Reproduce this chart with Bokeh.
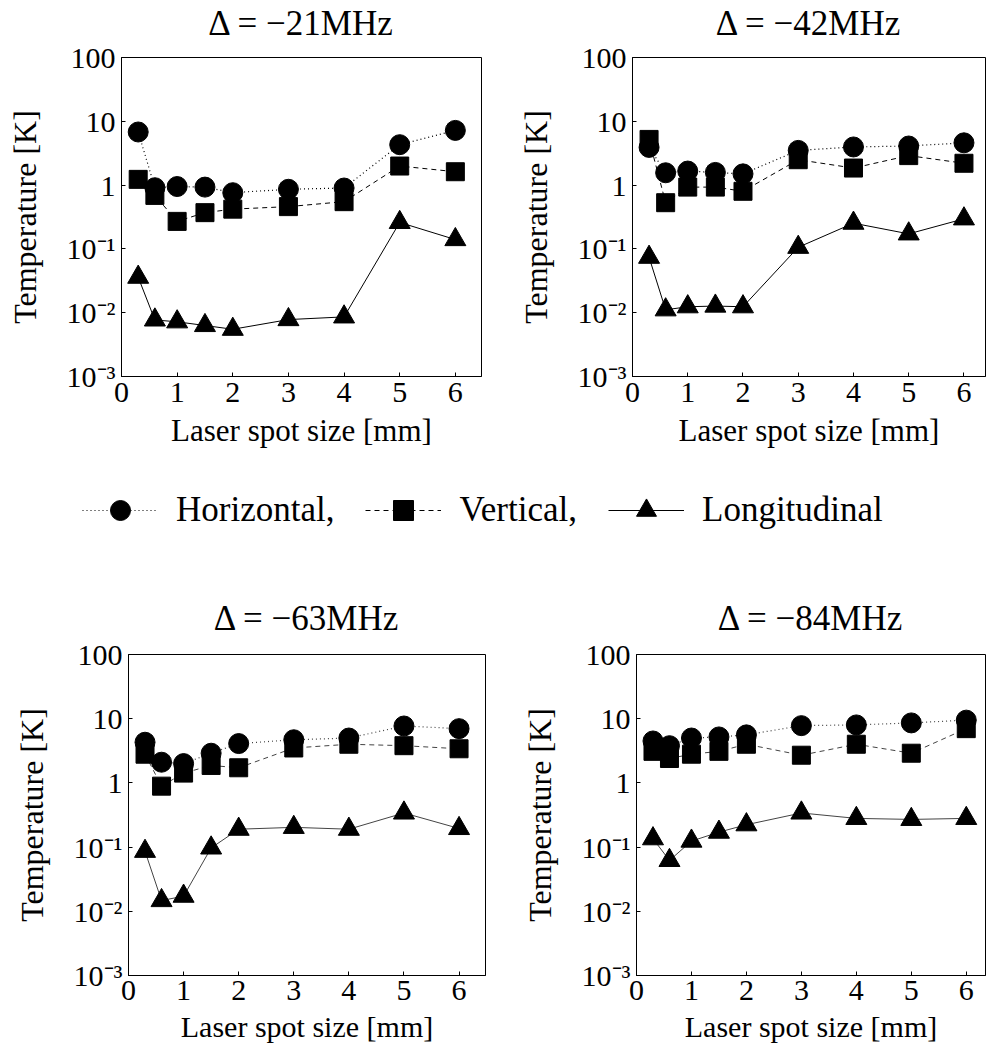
from bokeh.plotting import figure
from bokeh.models import ColumnDataSource, FixedTicker, Range1d, Legend, LegendItem
from bokeh.layouts import column, row
from bokeh.embed import file_html
from bokeh.resources import INLINE

# Laser spot sizes [mm] shared by every panel
spot_size = [0.3, 0.6, 1, 1.5, 2, 3, 4, 5, 6]

# Detuning of each panel
detunings = ["−21", "−42", "−63", "−84"]

# Temperatures [K] for each detuning
horiz_21 = [6.8, 0.91, 0.95, 0.93, 0.76, 0.86, 0.9, 4.3, 7.2]
vert_21 = [1.23, 0.69, 0.27, 0.37, 0.42, 0.46, 0.55, 1.99, 1.62]
long_21 = [0.036, 0.0077, 0.0072, 0.0063, 0.0055, 0.0078, 0.0086, 0.26, 0.14]

horiz_42 = [3.9, 1.56, 1.66, 1.58, 1.5, 3.5, 3.96, 4.1, 4.6]
vert_42 = [5.2, 0.53, 0.93, 0.93, 0.8, 2.5, 1.85, 2.9, 2.2]
long_42 = [0.074, 0.0111, 0.0124, 0.0127, 0.0124, 0.106, 0.253, 0.172, 0.296]

horiz_63 = [4.3, 2.1, 2.0, 2.9, 4.1, 4.7, 5.0, 7.7, 7.0]
vert_63 = [2.8, 0.89, 1.42, 1.87, 1.72, 3.5, 4.0, 3.8, 3.4]
long_63 = [0.086, 0.0147, 0.0172, 0.097, 0.19, 0.203, 0.19, 0.34, 0.195]

horiz_84 = [4.5, 3.8, 5.0, 5.2, 5.6, 7.8, 8.0, 8.6, 9.5]
vert_84 = [3.1, 2.4, 2.8, 3.1, 4.0, 2.7, 4.0, 2.9, 7.0]
long_84 = [0.135, 0.062, 0.124, 0.171, 0.223, 0.34, 0.28, 0.27, 0.28]

# Axis ticks
x_ticks = [0, 1, 2, 3, 4, 5, 6]
y_tick_values = [1e-3, 1e-2, 1e-1, 1, 10, 100]
y_tick_labels = ["10⁻³", "10⁻²", "10⁻¹", "1", "10", "100"]

series_names = ["Horizontal,", "Vertical,", "Longitudinal"]
x_label = "Laser spot size [mm]"
y_label = "Temperature [K]"

FONT = "Liberation Serif"

STYLES = [
    dict(marker="circle", size=20, line_dash="1 3", line_width=1.2),
    dict(marker="square", size=18, line_dash="5 4", line_width=1.0),
    dict(marker="triangle", size=21, line_dash="solid", line_width=1.0),
]


def make_panel(detuning, series, x_end, width, height,
               b_left, b_right, b_top, b_bottom, line_color,
               title_standoff, title_lift, tick_standoff, label_standoff,
               label_size):
    p = figure(width=width, height=height, y_axis_type="log",
               x_range=Range1d(0, x_end), y_range=Range1d(1e-3, 1e2),
               title=f"Δ = {detuning}MHz",
               output_backend="svg", toolbar_location=None,
               min_border_left=b_left, min_border_right=b_right,
               min_border_top=b_top, min_border_bottom=b_bottom)
    p.grid.visible = False
    p.outline_line_color = "black"
    p.outline_line_alpha = 1.0
    p.outline_line_width = 1
    p.background_fill_color = "white"
    p.border_fill_color = "white"

    # Heading: extra padding under the text lifts it away from the frame
    p.title.text_font = FONT
    p.title.text_font_size = "35px"
    p.title.text_font_style = "normal"
    p.title.text_color = "black"
    p.title.align = "center"
    p.title.standoff = title_standoff
    p.title.padding = (0, 0, 0, title_lift)

    for ax in (p.xaxis, p.yaxis):
        ax.axis_line_color = "black"
        ax.major_tick_line_color = "black"
        ax.major_tick_in = 4
        ax.major_tick_out = 0
        ax.minor_tick_line_color = None
        ax.major_label_text_font = FONT
        ax.major_label_text_font_size = "30px"
        ax.major_label_text_color = "black"
        ax.axis_label_text_font = FONT
        ax.axis_label_text_font_style = "normal"
        ax.axis_label_text_color = "black"

    p.xaxis.ticker = FixedTicker(ticks=x_ticks)
    p.xaxis.axis_label = x_label
    p.xaxis.axis_label_text_font_size = label_size
    p.xaxis.major_label_standoff = tick_standoff
    p.xaxis.axis_label_standoff = label_standoff

    p.yaxis.ticker = FixedTicker(ticks=y_tick_values)
    p.yaxis.major_label_overrides = dict(zip(y_tick_values, y_tick_labels))
    p.yaxis.axis_label = y_label
    p.yaxis.axis_label_text_font_size = "32px"
    p.yaxis.major_label_standoff = 6
    p.yaxis.axis_label_standoff = 21

    for values, st in zip(series, STYLES):
        src = ColumnDataSource(data=dict(x=spot_size, y=values))
        p.line("x", "y", source=src, line_color=line_color,
               line_dash=st["line_dash"], line_width=st["line_width"])
        p.scatter("x", "y", source=src, marker=st["marker"], size=st["size"],
                  fill_color="black", line_color="black")
    return p


p1 = make_panel(detunings[0], [horiz_21, vert_21, long_21], 6.47, 490, 460,
                121, 9, 57, 84, "black", 0, 15, 6, 8, "31px")
p2 = make_panel(detunings[1], [horiz_42, vert_42, long_42], 6.39, 496, 460,
                142, 1, 57, 84, "black", 0, 15, 6, 8, "31px")
p3 = make_panel(detunings[2], [horiz_63, vert_63, long_63], 6.48, 490, 460,
                128, 5, 64, 75, "#444444", 4, 15, 5, 7, "30px")
p4 = make_panel(detunings[3], [horiz_84, vert_84, long_84], 6.35, 496, 460,
                146, 1, 64, 75, "#444444", 4, 15, 5, 7, "30px")

# Shared legend strip between the two rows; its renderers are hidden and
# only lend their styles to the legend entries.
leg = figure(width=986, height=130, x_range=Range1d(0, 1), y_range=Range1d(0, 1),
             x_axis_location=None, y_axis_location=None,
             output_backend="svg", toolbar_location=None, min_border=0)
leg.grid.visible = False
leg.outline_line_color = None
items = []
for name, values, st in zip(series_names, [horiz_21, vert_21, long_21], STYLES):
    src = ColumnDataSource(data=dict(x=spot_size, y=values))
    rl = leg.line("x", "y", source=src, line_color="black",
                  line_dash=st["line_dash"], line_width=st["line_width"],
                  visible=False)
    rs = leg.scatter("x", "y", source=src, marker=st["marker"],
                     fill_color="black", line_color="black", visible=False)
    items.append(LegendItem(label=name, renderers=[rl, rs]))

legend = Legend(items=items, orientation="horizontal", location=(82, 55),
                glyph_width=76, glyph_height=50, label_standoff=18, spacing=31,
                padding=0, margin=0, border_line_color=None,
                background_fill_alpha=0, click_policy="none",
                inactive_fill_alpha=0,
                label_text_font=FONT, label_text_font_size="35px",
                label_text_color="black")
leg.add_layout(legend, "center")

layout = column(row(p1, p2), leg, row(p3, p4))

open("out.html", "w").write(file_html(layout, INLINE))
